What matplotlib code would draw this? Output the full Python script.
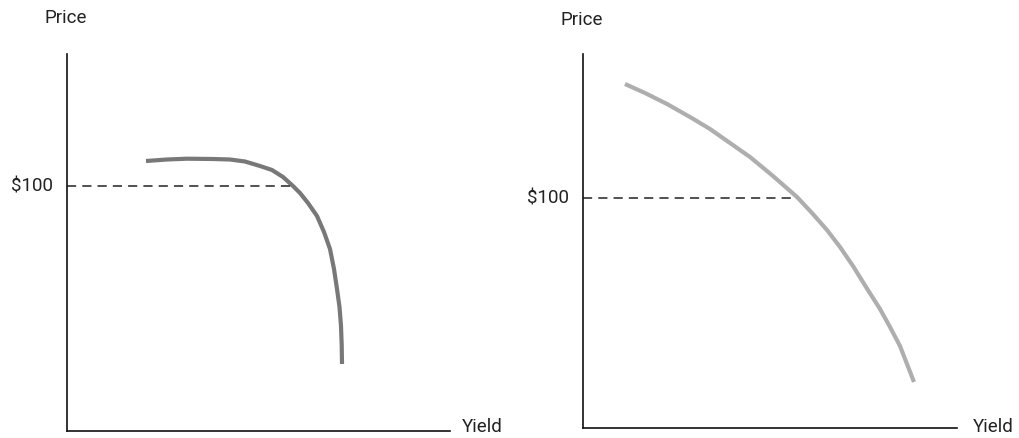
import matplotlib.pyplot as plt

plt.rcParams["font.family"] = ["Roboto", "DejaVu Sans"]

# left panel: price/yield curve
left_yield = [79, 100, 120, 146, 163, 178, 193, 205, 216, 226, 233, 241, 250, 257, 263, 267, 270, 272.5, 274, 274.7, 275]
left_price = [270, 271.5, 272.3, 272, 271.5, 269.5, 265, 261, 254, 245, 238, 228, 215, 199, 182, 162, 142, 124, 105, 86, 67]
left_par = 245
left_par_yield = 226

# right panel
right_yield = [42, 62, 84, 107, 127, 147, 167, 190, 214, 229, 244, 257, 270, 283, 297, 307, 317, 324, 331]
right_price = [344, 335, 324, 311, 299, 285, 271, 252, 231, 215, 198, 181, 162, 141, 119, 101, 82, 64, 46]
right_par = 230
right_par_yield = 214

W, H = 1019, 439
fig = plt.figure(figsize=(W / 100, H / 100), dpi=100)


def panel(x0, y_top, y_bot, width, xs, ys, par, par_x, color):
    ax = fig.add_axes([x0 / W, (H - y_bot) / H, width / W, (y_bot - y_top) / H])
    ax.set_xlim(0, width)
    ax.set_ylim(0, y_bot - y_top)
    ax.plot(xs, ys, color=color, lw=3.0, solid_capstyle="butt", solid_joinstyle="round")
    ax.plot([0, par_x], [par, par], color="#222222", lw=1.1, dashes=(6, 4))
    for s in ["top", "right"]:
        ax.spines[s].set_visible(False)
    for s in ["left", "bottom"]:
        ax.spines[s].set_linewidth(1.2)
        ax.spines[s].set_color("#111111")
    ax.set_xticks([])
    ax.set_yticks([])
    ax.patch.set_alpha(0)
    return ax


panel(67, 55, 432, 383, left_yield, left_price, left_par, left_par_yield, "#787878")
panel(583, 55, 429, 374, right_yield, right_price, right_par, right_par_yield, "#aeaeae")


def label(x, y, s, ha):
    fig.text(x / W, 1 - y / H, s, ha=ha, va="center", fontsize=13.5, color="#222222")


label(66, 18, "Price", "center")
label(582, 20, "Price", "center")
label(53, 187, "$100", "right")
label(569, 199, "$100", "right")
label(462, 427, "Yield", "left")
label(973, 427, "Yield", "left")

fig.savefig("out.png", dpi=100)
